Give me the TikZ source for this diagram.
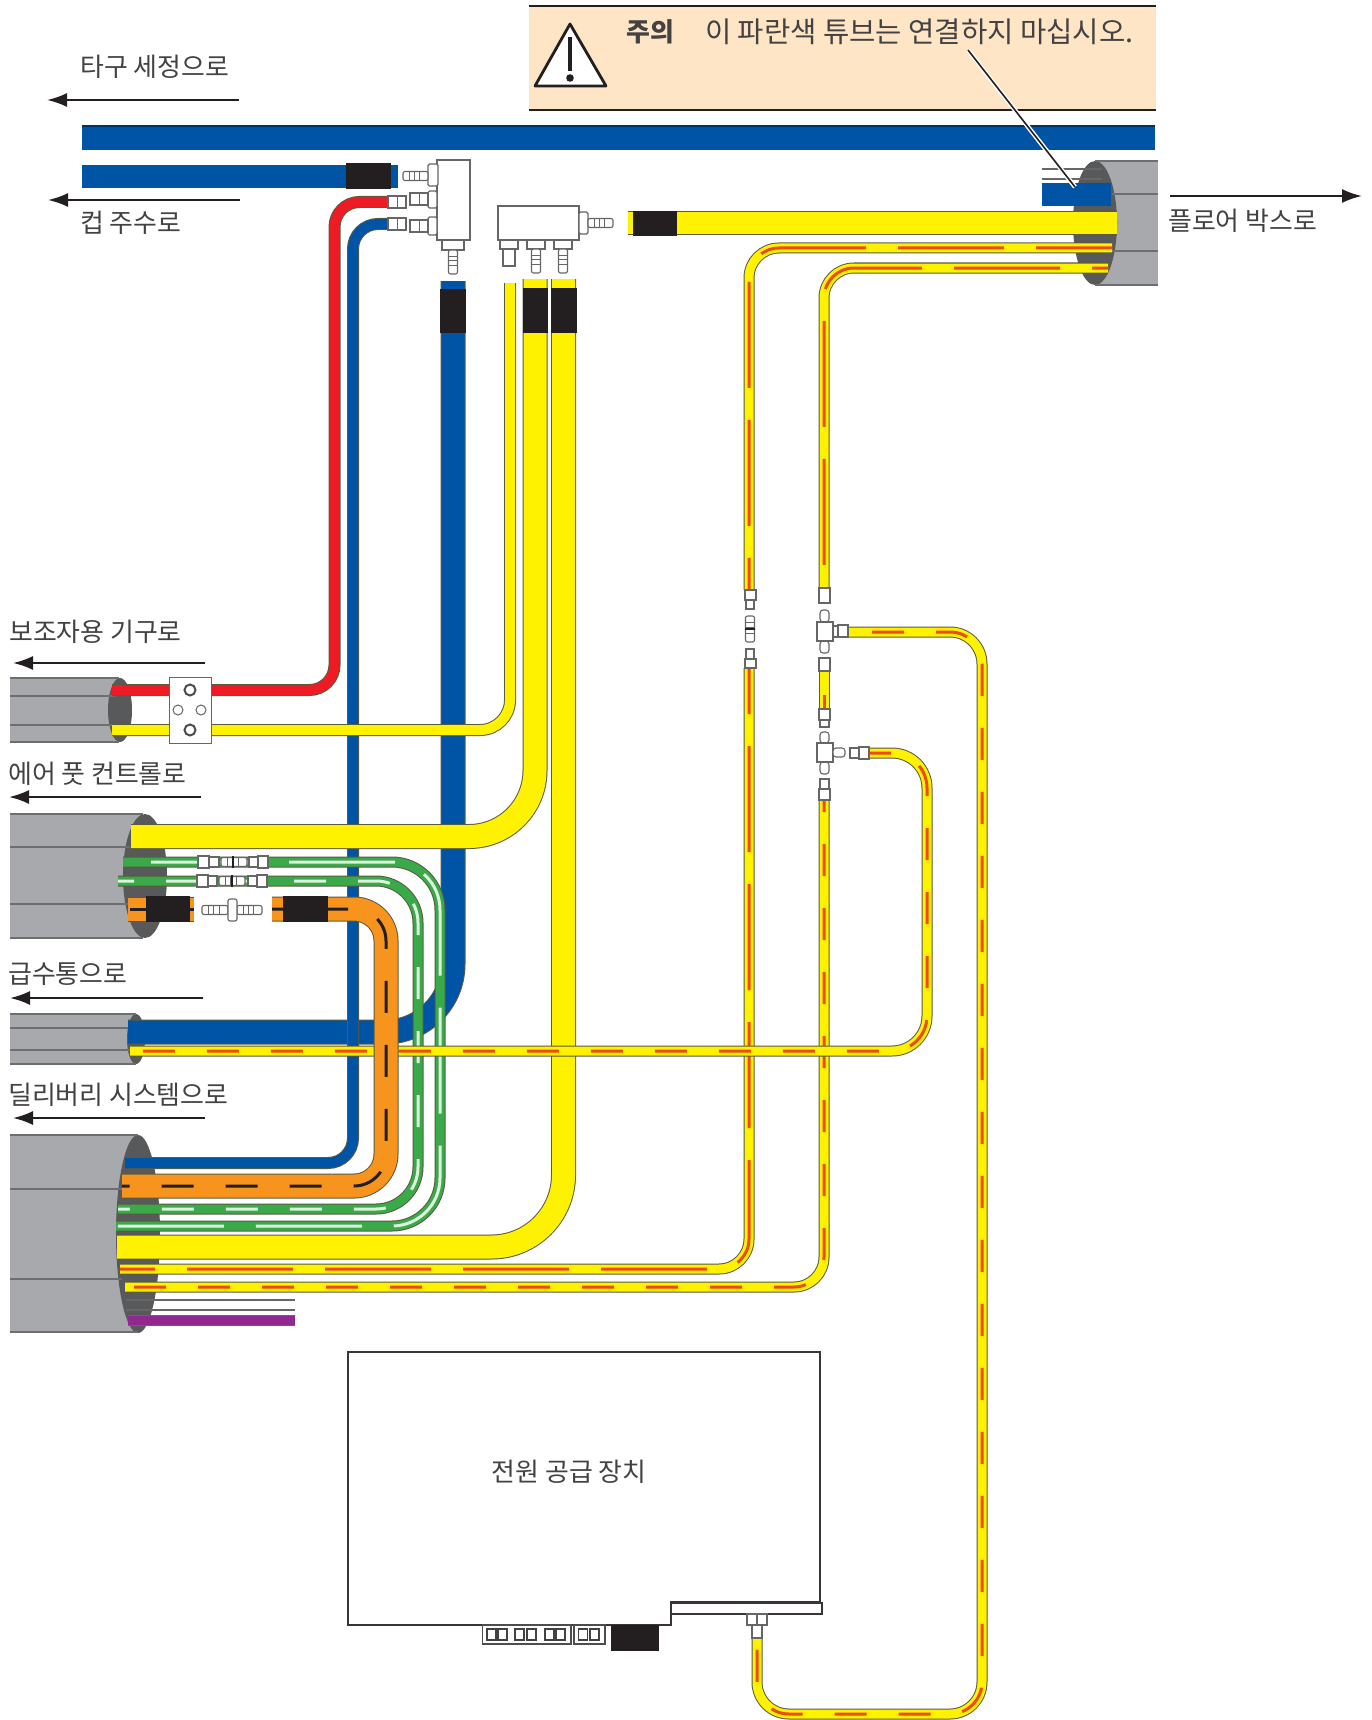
\documentclass[tikz,border=0pt]{standalone}
\usepackage{fontspec}
\newfontfamily\kr{Noto Sans CJK KR}
\usetikzlibrary{arrows.meta}
\definecolor{yel}{HTML}{FFF200}
\definecolor{blu}{HTML}{0054A6}
\definecolor{rd}{HTML}{ED1C24}
\definecolor{org}{HTML}{F7941E}
\definecolor{grn}{HTML}{39A949}
\definecolor{pur}{HTML}{92278F}
\definecolor{rdash}{HTML}{EE4A12}
\definecolor{lgrn}{HTML}{DDF2DD}
\definecolor{cable}{HTML}{A7A9AC}
\definecolor{cableln}{HTML}{6D6E71}
\definecolor{cabledk}{HTML}{58595B}
\definecolor{edgeln}{HTML}{5A5A40}
\definecolor{blk}{HTML}{231F20}
\definecolor{peach}{HTML}{FDE5C5}
\definecolor{fitln}{HTML}{666666}
\tikzset{
  label/.style={font=\kr\fontsize{25.9pt}{28pt}\selectfont,text=blk!85,anchor=west,inner sep=0pt,yshift=-1pt},
  dirarrow/.style={line width=2.2pt,draw=blk,-{Latex[length=20pt,width=14pt]}},
  fit/.style={draw=fitln,fill=white,line width=1.1pt},
  sleeve/.style={fill=blk,draw=none},
  cablebody/.style={fill=cable,draw=none},
  cableline/.style={draw=cableln,line width=1.3pt},
  cableend/.style={fill=cabledk,draw=none},
}
% width, radius, colour, path
\newcommand{\tube}[4]{%
  \draw[line width=#1pt+2pt,draw=edgeln,rounded corners=#2pt] #4;
  \draw[line width=#1pt,draw=#3,rounded corners=#2pt] #4;}
% radius, on, off, colour, phase, path
\newcommand{\stripe}[6]{%
  \draw[line width=3pt,draw=#4,rounded corners=#1pt,dash pattern=on #2pt off #3pt,dash phase=#5pt] #6;}
\newcommand{\barbH}[3]{% x1 x2 y
  \draw[fit,rounded corners=2pt] (#1,#3-4.5) rectangle (#2,#3+4.5);
  \foreach \t in {0.25,0.45,0.65}{\draw[draw=fitln,line width=.8pt] ({#1+\t*(#2-#1)},#3-4.5) -- ({#1+\t*(#2-#1)},#3+4.5);}}
\newcommand{\barbV}[3]{% x y1 y2
  \draw[fit,rounded corners=2pt] (#1-4.5,#2) rectangle (#1+4.5,#3);
  \foreach \t in {0.25,0.45,0.65}{\draw[draw=fitln,line width=.8pt] (#1-4.5,{#2+\t*(#3-#2)}) -- (#1+4.5,{#2+\t*(#3-#2)});}}
\newcommand{\boxf}[4]{\draw[fit] (#1,#2) rectangle (#3,#4);}
\begin{document}
\begin{tikzpicture}[x=1pt,y=-1pt]
\useasboundingbox (0,0) rectangle (1372,1720);
\fill[white] (0,0) rectangle (1372,1720);
% warning panel
\fill[peach] (529,6) rectangle (1156,110);
\draw[draw=blk,line width=1.2pt] (529,6) -- (1156,6) (529,110) -- (1156,110);
\draw[fill=white,draw=blk,line width=2.8pt,line join=round] (570,24) -- (606,86) -- (535,86) -- cycle;
\draw[draw=blk,line width=3.2pt] (570,37) -- (570,71);
\fill[blk] (570,78) circle (3.8);
\node[label,font=\kr\bfseries\fontsize{25.9pt}{28pt}\selectfont] (cautionhead) at (626,31) {주의};
\node[label,font=\kr\fontsize{28.6pt}{30pt}\selectfont] (cautiontext) at (705,31) {이 파란색 튜브는 연결하지 마십시오.};
% top bar
\fill[blu] (82,126) rectangle (1155,150);
\draw[draw=blu!60!black,line width=1.2pt] (82,126) -- (1155,126);
% cables
\fill[cablebody] (10,678) rectangle (119,742);
\fill[cableend] (120,710) ellipse (12 and 32);
\draw[cableline] (10,696) -- (116,696) (10,725) -- (116,725) (10,678) -- (119,678) (10,742) -- (119,742);
\fill[cablebody] (10,814) rectangle (143,938);
\fill[cableend] (145,876) ellipse (22 and 62);
\draw[cableline] (10,847) -- (130,847) (10,904) -- (130,904) (10,814) -- (143,814) (10,938) -- (143,938);
\fill[cablebody] (10,1014) rectangle (136,1064);
\fill[cableend] (136,1039) ellipse (9 and 25);
\draw[cableline] (10,1028) -- (130,1028) (10,1050) -- (130,1050) (10,1014) -- (136,1014) (10,1064) -- (136,1064);
\fill[cablebody] (10,1135) rectangle (138,1332);
\fill[cableend] (138,1234) ellipse (22 and 99);
\draw[cableline] (10,1189) -- (122,1189) (10,1279) -- (122,1279) (10,1135) -- (138,1135) (10,1332) -- (138,1332);
\fill[cablebody] (1095,161) rectangle (1158,285);
\fill[cableend] (1095,223) ellipse (22 and 62);
\draw[cableline] (1112,194) -- (1158,194) (1112,251) -- (1158,251) (1095,161) -- (1158,161) (1095,285) -- (1158,285);
% blue tubes
\tube{23}{68}{blu}{(128,1032) -- (453,1032) -- (453,281)}
\tube{10}{25}{blu}{(125,1163) -- (353,1163) -- (353,224) -- (388,224)}
\tube{10}{25}{rd}{(112,690) -- (334.5,690) -- (334.5,202) -- (388,202)}
\fill[blu] (82,165) rectangle (398,188);
% greens
\tube{9}{48}{grn}{(123,862) -- (440,862) -- (440,1226) -- (116,1226)}
\stripe{48}{106}{32}{lgrn}{110}{(123,862) -- (440,862) -- (440,1226) -- (116,1226)}
\tube{9}{42}{grn}{(118,881) -- (418,881) -- (418,1209) -- (118,1209)}
\stripe{42}{32}{32}{lgrn}{16}{(118,881) -- (418,881) -- (418,1209) -- (118,1209)}
% yellow big
\tube{10}{30}{yel}{(112,730) -- (510,730) -- (510,283)}
\tube{23}{66}{yel}{(131,836.5) -- (535,836.5) -- (535,279)}
\tube{23}{72}{yel}{(117,1247) -- (563.5,1247) -- (563.5,279)}
\tube{22}{1}{yel}{(628,223) -- (1117,223)}
% white and purple
\draw[draw=fitln,line width=1.2pt] (126,1300) -- (295,1300) (126,1310) -- (295,1310);
\fill[pur] (128,1315) rectangle (295,1325);
\draw[draw=fitln,line width=.8pt] (128,1315) -- (295,1315) (128,1325) -- (295,1325);
\draw[draw=fitln,line width=1.2pt] (1042,169) -- (1102,169) (1042,179) -- (1102,179);
\fill[blu] (1042,183) rectangle (1111,206);
% thin yellow tubes
\tube{9}{30}{yel}{(1112,248) -- (749,248) -- (749,590)}
\stripe{30}{106}{32}{rdash}{30}{(1112,248) -- (749,248) -- (749,590)}
\tube{9}{30}{yel}{(749,668) -- (749,1269) -- (120,1269)}
\stripe{30}{106}{32}{rdash}{60}{(749,668) -- (749,1269) -- (120,1269)}
\tube{9}{30}{yel}{(1108,268) -- (824,268) -- (824,588)}
\stripe{30}{106}{32}{rdash}{90}{(1108,268) -- (824,268) -- (824,588)}
\tube{9}{1}{yel}{(824,671) -- (824,709)}
\stripe{1}{32}{32}{rdash}{40}{(824,671) -- (824,709)}
\tube{9}{30}{yel}{(824,800) -- (824,1287) -- (125,1287)}
\stripe{30}{32}{32}{rdash}{20}{(824,800) -- (824,1287) -- (125,1287)}
\tube{9}{32}{yel}{(848,632) -- (982,632) -- (982,1714) -- (757,1714) -- (757,1637)}
\stripe{32}{32}{32}{rdash}{40}{(848,632) -- (982,632) -- (982,1714) -- (757,1714) -- (757,1637)}
\tube{9}{35}{yel}{(869,753) -- (927,753) -- (927,1051) -- (130,1051)}
\stripe{35}{32}{32}{rdash}{10}{(869,753) -- (927,753) -- (927,1051) -- (130,1051)}
% orange
\tube{23}{32}{org}{(272,909) -- (386,909) -- (386,1186) -- (122,1186)}
\stripe{32}{32}{32}{blk}{20}{(272,909) -- (386,909) -- (386,1186) -- (122,1186)}
\fill[org] (128,897) rectangle (194,921);
\draw[draw=edgeln,line width=.8pt] (128,897) -- (194,897) (128,921) -- (194,921);
\draw[draw=blk,line width=3pt] (130,909) -- (194,909);
% sleeves
\fill[sleeve] (146,896) rectangle (190,922);
\fill[sleeve] (283,896) rectangle (328,922);
\fill[sleeve] (346,163.5) rectangle (391,189);
\fill[sleeve] (440,289) rectangle (466,333);
\fill[sleeve] (522.5,288) rectangle (548,333);
\fill[sleeve] (550.5,288) rectangle (577,333);
\fill[sleeve] (633,211) rectangle (677,236);
% clamp
\draw[draw=fitln,fill=white,line width=1pt] (169,677) rectangle (211,743);
\draw[draw=blk!80,line width=2pt] (190,690) circle (5.5) (190,730) circle (5.5);
\draw[draw=fitln,line width=1pt] (178,710) circle (5) (201,710) circle (5);
% manifold 1
\draw[fit] (437,160) rectangle (470,240);
\draw[fit,rounded corners=1.5pt] (428,164) rectangle (438,186);
\barbH{403}{428}{176}
\draw[fit,rounded corners=1.5pt] (428,191) rectangle (437,208);
\boxf{410}{193}{428}{205}
\draw[draw=fitln,line width=.8pt] (419,193) -- (419,205);
\boxf{388}{196}{406}{208}
\draw[draw=fitln,line width=.8pt] (397,196) -- (397,208);
\draw[fit,rounded corners=1.5pt] (428,217) rectangle (437,235);
\boxf{410}{220}{428}{232}
\draw[draw=fitln,line width=.8pt] (419,220) -- (419,232);
\boxf{388}{218}{406}{230}
\draw[draw=fitln,line width=.8pt] (397,218) -- (397,230);
\draw[fit] (442,240) rectangle (464,250);
\barbV{453}{250}{274}
% manifold 2
\draw[fit] (498,206) rectangle (579,240);
\draw[fit,rounded corners=1.5pt] (579,212) rectangle (588,234);
\barbH{588}{613}{223}
\foreach \cx in {509,536,563}{\draw[fit] (\cx-9,240) rectangle (\cx+9,249);}
\boxf{503}{249}{515}{266}
\barbV{536}{249}{273}
\barbV{563}{249}{273}
% green fittings
\boxf{198}{856}{209}{868}
\boxf{209}{857}{219}{867}
\barbH{221}{247}{862}
\draw[draw=blk,line width=1.6pt] (233,856) -- (233,868);
\boxf{249}{857}{258}{867}
\boxf{258}{856}{268}{868}
\boxf{197}{875}{208}{887}
\boxf{208}{876}{217}{886}
\barbH{219}{245}{881}
\draw[draw=blk,line width=1.6pt] (232,875) -- (232,887);
\boxf{248}{876}{257}{886}
\boxf{257}{875}{267}{887}
% orange connector
\barbH{202}{228}{910}
\barbH{237}{262}{910}
\draw[fit,rounded corners=2pt] (228,899) rectangle (237,921);
% thin tube fittings at x=749
\boxf{746}{600}{754}{609}
\boxf{745}{590}{756}{600}
\barbV{750}{616}{642}
\draw[draw=blk,line width=1.6pt] (745,629) -- (755,629);
\boxf{746}{649}{754}{659}
\boxf{745}{659}{756}{668}
% T1
\boxf{819}{588}{830}{603}
\draw[fit,rounded corners=3pt] (820,610) rectangle (829,622);
\draw[fit,rounded corners=3pt] (820,641) rectangle (829,653);
\boxf{817}{622}{833}{641}
\boxf{833}{626}{838}{637}
\boxf{838}{625}{848}{637}
\boxf{819}{658}{830}{671}
\boxf{819}{709}{830}{720}
\boxf{820}{720}{829}{727}
% T2
\draw[fit,rounded corners=3pt] (820,732) rectangle (829,743);
\draw[fit,rounded corners=3pt] (820,762) rectangle (829,774);
\boxf{817}{743}{833}{762}
\draw[fit,rounded corners=3pt] (833,748) rectangle (845,757);
\boxf{850}{748}{859}{758}
\boxf{859}{747}{869}{759}
\boxf{820}{779}{829}{789}
\boxf{819}{789}{830}{800}
% power supply
\draw[fill=white,draw=blk!90,line width=1.8pt] (348,1352) -- (820,1352) -- (820,1602) -- (671,1602) -- (671,1625) -- (348,1625) -- cycle;
\draw[fill=white,draw=blk!90,line width=1.8pt] (671,1603) rectangle (822,1614);
\node[label,anchor=center] (psu) at (569,1471) {전원 공급 장치};
\draw[fit] (747,1614) rectangle (757,1625);
\draw[fit] (757,1614) rectangle (767,1625);
\boxf{752}{1625}{762}{1638}
\draw[draw=blk!80,line width=1.4pt] (482.5,1625) rectangle (571,1644) (574,1625) rectangle (605,1644);
\foreach \a in {487,498,515,527,545,556,578.5,590}{\draw[draw=blk!85,line width=1.6pt] (\a,1629) rectangle (\a+9,1640);}
\fill[blk] (611,1625) rectangle (659,1651);
% leader
\coordinate (leadA) at (968,50);
\coordinate (leadB) at (1075,187);
\draw[draw=white,line width=4.5pt] (leadA) -- (leadB);
\draw[draw=blk,line width=1.6pt] (leadA) -- (leadB);
% labels and arrows
\node[label] (l1) at (80,66) {타구 세정으로};
\coordinate (a1s) at (239,100); \coordinate (a1e) at (47,100);
\draw[dirarrow] (a1s) -- (a1e);
\node[label] (l2) at (80,222) {컵 주수로};
\coordinate (a2s) at (240,200); \coordinate (a2e) at (48,200);
\draw[dirarrow] (a2s) -- (a2e);
\node[label] (l3) at (1168,220) {플로어 박스로};
\coordinate (a3s) at (1170,196); \coordinate (a3e) at (1362,196);
\draw[dirarrow] (a3s) -- (a3e);
\node[label] (l4) at (9,631) {보조자용 기구로};
\coordinate (a4s) at (205,663); \coordinate (a4e) at (13,663);
\draw[dirarrow] (a4s) -- (a4e);
\node[label] (l5) at (8,773) {에어 풋 컨트롤로};
\coordinate (a5s) at (201,797); \coordinate (a5e) at (9,797);
\draw[dirarrow] (a5s) -- (a5e);
\node[label] (l6) at (8,973) {급수통으로};
\coordinate (a6s) at (203,998); \coordinate (a6e) at (10,998);
\draw[dirarrow] (a6s) -- (a6e);
\node[label] (l7) at (8,1094) {딜리버리 시스템으로};
\coordinate (a7s) at (205,1118); \coordinate (a7e) at (13,1118);
\draw[dirarrow] (a7s) -- (a7e);
\end{tikzpicture}
\end{document}
